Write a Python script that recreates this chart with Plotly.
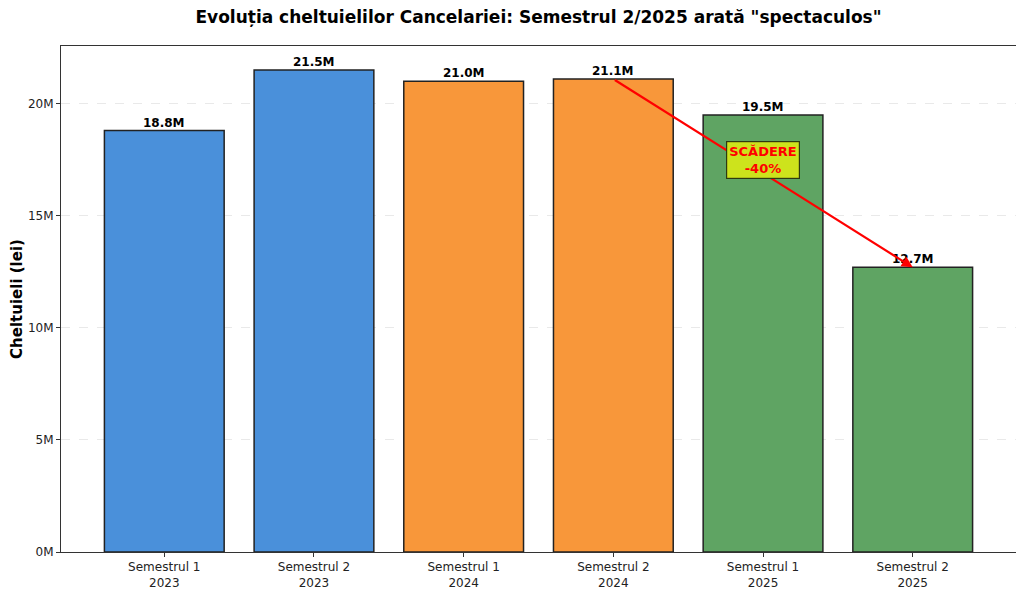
import plotly.graph_objects as go

# data (lei)
perioade = ["Semestrul 1<br>2023", "Semestrul 2<br>2023", "Semestrul 1<br>2024",
            "Semestrul 2<br>2024", "Semestrul 1<br>2025", "Semestrul 2<br>2025"]
cheltuieli = [18.8e6, 21.5e6, 21.0e6, 21.1e6, 19.5e6, 12.7e6]
etichete = ["18.8M", "21.5M", "21.0M", "21.1M", "19.5M", "12.7M"]
culori = ["#4a90da", "#4a90da", "#f8973a", "#f8973a", "#5fa463", "#5fa463"]
tick_vals = [0, 5e6, 10e6, 15e6, 20e6]
tick_text = ["0M", "5M", "10M", "15M", "20M"]

x = list(range(len(perioade)))
FONT = "DejaVu Sans"

fig = go.Figure()
fig.add_trace(go.Bar(
    x=x, y=cheltuieli, width=0.8,
    marker=dict(color=culori, line=dict(color="#222222", width=1.5)),
    hoverinfo="skip",
))

# value labels sitting on bar tops
for xi, val, lab in zip(x, cheltuieli, etichete):
    fig.add_annotation(x=xi, y=val, xref="x", yref="y", text=f"<b>{lab}</b>",
                       showarrow=False, yanchor="bottom", yshift=-1,
                       font=dict(family=FONT, size=12, color="black"))

# arrow from S2 2024 to S2 2025
fig.add_annotation(
    x=x[5], y=cheltuieli[5], ax=x[3], ay=cheltuieli[3],
    xref="x", yref="y", axref="x", ayref="y",
    showarrow=True, arrowhead=2, arrowsize=1, arrowwidth=2.2, arrowcolor="#ff0000",
    text="",
)
fig.add_annotation(
    x=x[4], y=17.5e6, xref="x", yref="y", showarrow=False,
    text="<b>SCĂDERE<br>-40%</b>",
    font=dict(family=FONT, size=13, color="#ff0000"),
    bgcolor="#cde31c", bordercolor="#2e3a10", borderwidth=1.2, borderpad=2,
)

fig.update_xaxes(
    range=[-0.69, 5.69], tickvals=x, ticktext=perioade,
    ticks="outside", ticklen=4, tickcolor="#333", automargin=False,
    showline=True, linecolor="#333", linewidth=1, mirror=True,
    showgrid=False, tickfont=dict(family=FONT, size=12, color="#222"),
)
fig.update_yaxes(
    range=[0, 22.575e6], tickvals=tick_vals, ticktext=tick_text,
    ticks="outside", ticklen=4, tickcolor="#333", automargin=False,
    showline=True, linecolor="#333", linewidth=1, mirror=True,
    showgrid=True, gridcolor="#e9e9e9", griddash="dash", gridwidth=1,
    zeroline=False, tickfont=dict(family=FONT, size=12, color="#222"),
    title=dict(text="<b>Cheltuieli (lei)</b>", font=dict(family=FONT, size=15, color="black"),
               standoff=6),
)
fig.update_layout(
    title=dict(text="<b>Evoluția cheltuielilor Cancelariei: Semestrul 2/2025 arată \"spectaculos\"</b>",
               x=0.5, xref="paper", xanchor="center", y=0.985, yanchor="middle",
               font=dict(family=FONT, size=17, color="black")),
    width=1024, height=595,
    margin=dict(l=53, r=16, t=38, b=51),
    plot_bgcolor="white", paper_bgcolor="white",
    showlegend=False, bargap=0.2,
    font=dict(family=FONT),
)

fig.write_html("out.html")
